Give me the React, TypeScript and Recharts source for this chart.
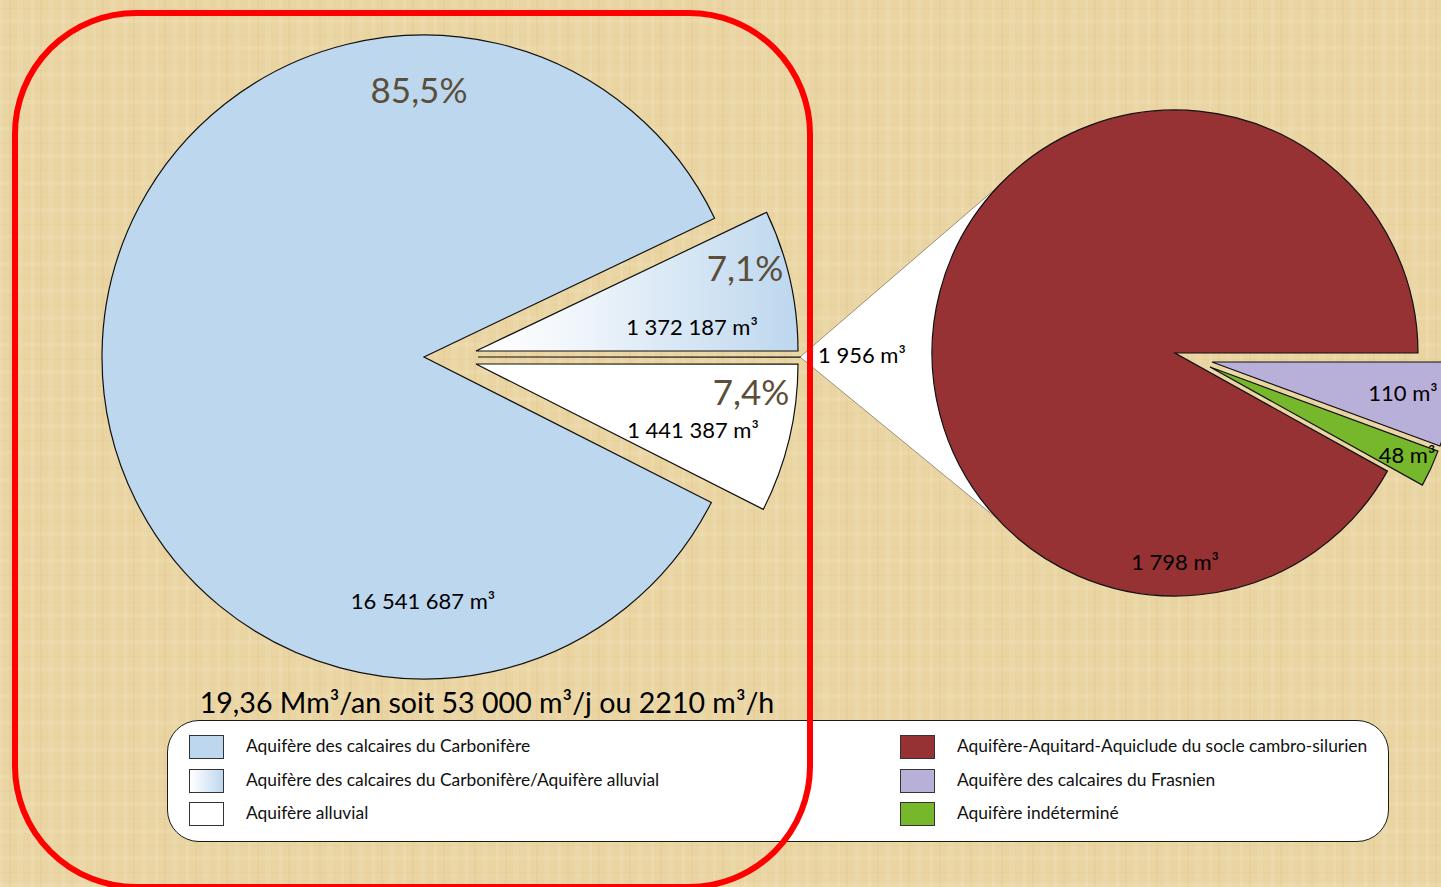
import React from 'react';
import { PieChart, Pie, Cell } from 'recharts';

// ---------- data ----------
const mainCategories = [
  'Aquifère des calcaires du Carbonifère',
  'Aquifère des calcaires du Carbonifère/Aquifère alluvial',
  'Aquifère alluvial',
  'Autres',
];
const mainVolumes = [16541687, 1372187, 1441387, 1956];
const mainPercentLabels = ['85,5%', '7,1%', '7,4%', ''];
const mainVolumeLabels = ['16 541 687 m³', '1 372 187 m³', '1 441 387 m³', '1 956 m³'];

const subCategories = [
  'Aquifère-Aquitard-Aquiclude du socle cambro-silurien',
  'Aquifère des calcaires du Frasnien',
  'Aquifère indéterminé',
];
const subVolumes = [1798, 110, 48];
const subVolumeLabels = ['1 798 m³', '110 m³', '48 m³'];

const titleText = '19,36 Mm³/an soit 53 000 m³/j ou 2210 m³/h';

// ---------- style ----------
const FONT = 'Lato, "Open Sans", "Noto Sans", sans-serif';
const mainFills = ['#BDD7EE', 'url(#gradCA)', '#FFFFFF', '#FFFFFF'];
const mainSwatches = ['#BDD7EE', 'linear-gradient(90deg,#FFFFFF 0%,#EEF4FB 30%,#BDD7EE 100%)', '#FFFFFF'];
const subFills = ['#963234', '#B9B0D9', '#77B72B'];
const PCT_COLOR = '#5A4E3A';

// drawing order (counter-clockwise from 3 o'clock)
const mainOrder = [1, 0, 2, 3];
const subOrder = [0, 2, 1];

const mainData = mainOrder.map((i) => ({ idx: i, name: mainCategories[i], value: mainVolumes[i] }));
const subData = subOrder.map((i) => ({ idx: i, name: subCategories[i], value: subVolumes[i] }));

// geometry of each (exploded) slice
const R1 = 322;
const R2 = 243;
const mainGeom: Record<number, { cx: number; cy: number }> = {
  0: { cx: 424, cy: 357 },
  1: { cx: 476, cy: 351 },
  2: { cx: 476, cy: 364 },
  3: { cx: 478, cy: 357 },
};
const subGeom: Record<number, { cx: number; cy: number }> = {
  0: { cx: 1175, cy: 353 },
  1: { cx: 1212, cy: 362 },
  2: { cx: 1210, cy: 367 },
};
// label offsets relative to slice apex
const mainLabelPos: Record<number, { pct?: [number, number]; vol: [number, number]; anchor?: string }> = {
  0: { pct: [-5, -268], vol: [-1, 243] },
  1: { pct: [269, -84], vol: [216, -25] },
  2: { pct: [275, 27], vol: [217, 65] },
  3: { vol: [340, -3], anchor: 'start' },
};
const subLabelPos: Record<number, [number, number]> = {
  0: [0, 208],
  1: [191, 30],
  2: [197, 87],
};

const W = 1441;
const H = 887;

function makeMainLabel(visible: number) {
  return (props: any) => {
    const d = mainData[props.index];
    if (!d || d.idx !== visible) return null;
    const g = mainGeom[visible];
    const p = mainLabelPos[visible];
    return (
      <g key={`ml-${visible}`}>
        {p.pct && mainPercentLabels[visible] ? (
          <text x={g.cx + p.pct[0]} y={g.cy + p.pct[1]} textAnchor="middle" dominantBaseline="central"
            fontFamily={FONT} fontSize={35} fill={PCT_COLOR}>{mainPercentLabels[visible]}</text>
        ) : null}
        <text x={g.cx + p.vol[0]} y={g.cy + p.vol[1]} textAnchor={p.anchor || 'middle'} dominantBaseline="central"
          fontFamily={FONT} fontSize={22} fill="#000">{mainVolumeLabels[visible]}</text>
      </g>
    );
  };
}

function makeSubLabel(visible: number) {
  return (props: any) => {
    const d = subData[props.index];
    if (!d || d.idx !== visible) return null;
    const g = subGeom[visible];
    const p = subLabelPos[visible];
    return (
      <text key={`sl-${visible}`} x={g.cx + p[0]} y={g.cy + p[1]} textAnchor="middle" dominantBaseline="central"
        fontFamily={FONT} fontSize={22} fill="#000">{subVolumeLabels[visible]}</text>
    );
  };
}

function mainPie(visible: number) {
  const g = mainGeom[visible];
  return (
    <Pie key={`mp-${visible}`} data={mainData} dataKey="value" nameKey="name" cx={g.cx} cy={g.cy}
      outerRadius={R1} innerRadius={0} startAngle={0} endAngle={360} isAnimationActive={false}
      label={makeMainLabel(visible)} labelLine={false}>
      {mainData.map((d) => (
        <Cell key={d.idx} fill={d.idx === visible ? mainFills[d.idx] : 'none'}
          stroke={d.idx === visible ? '#111' : 'none'} strokeWidth={1.2} />
      ))}
    </Pie>
  );
}

function subPie(visible: number) {
  const g = subGeom[visible];
  return (
    <Pie key={`sp-${visible}`} data={subData} dataKey="value" nameKey="name" cx={g.cx} cy={g.cy}
      outerRadius={R2} innerRadius={0} startAngle={0} endAngle={360} isAnimationActive={false}
      label={makeSubLabel(visible)} labelLine={false}>
      {subData.map((d) => (
        <Cell key={d.idx} fill={d.idx === visible ? subFills[d.idx] : 'none'}
          stroke={d.idx === visible ? '#111' : 'none'} strokeWidth={1.2} />
      ))}
    </Pie>
  );
}

// connector between "Autres" slice tip and the secondary pie
const CONNECT_ANGLE = 137;
function Connector() {
  const tipX = mainGeom[3].cx + R1;
  const tipY = mainGeom[3].cy;
  const c = subGeom[0];
  const a = (CONNECT_ANGLE * Math.PI) / 180;
  const top = [c.cx + R2 * Math.cos(a), c.cy - R2 * Math.sin(a)];
  const bot = [c.cx + R2 * Math.cos(a), c.cy + R2 * Math.sin(a)];
  return (
    <svg width={W} height={H} style={{ position: 'absolute', left: 0, top: 0 }}>
      <polygon points={`${tipX},${tipY} ${top[0]},${top[1]} ${c.cx},${c.cy} ${bot[0]},${bot[1]}`} fill="#FFFFFF" stroke="none" />
      <line x1={tipX} y1={tipY} x2={top[0]} y2={top[1]} stroke="#9A8F78" strokeWidth={1} />
      <line x1={tipX} y1={tipY} x2={bot[0]} y2={bot[1]} stroke="#9A8F78" strokeWidth={1} />
    </svg>
  );
}

const legendRows = [0, 1, 2];

export default function App() {
  return (
    <div
      style={{
        position: 'absolute', left: 0, top: 0, width: W, height: H, overflow: 'hidden',
        backgroundColor: '#EAD5A2',
        backgroundImage:
          'repeating-linear-gradient(90deg, rgba(255,255,255,0.10) 0px, rgba(255,255,255,0.10) 3px, transparent 3px, transparent 9px, rgba(140,100,40,0.045) 9px, rgba(140,100,40,0.045) 11px, transparent 11px, transparent 17px, rgba(255,255,255,0.07) 17px, rgba(255,255,255,0.07) 23px, transparent 23px, transparent 31px),' +
          'repeating-linear-gradient(0deg, rgba(255,255,255,0.08) 0px, rgba(255,255,255,0.08) 4px, transparent 4px, transparent 14px, rgba(140,100,40,0.04) 14px, rgba(140,100,40,0.04) 15px, transparent 15px, transparent 27px)',
        fontFamily: FONT,
      }}
    >
      <Connector />
      <div style={{ position: 'absolute', left: 0, top: 0 }}>
        <PieChart width={W} height={H} margin={{ top: 0, right: 0, bottom: 0, left: 0 }}>
          <defs>
            <linearGradient id="gradCA" x1="0" y1="0" x2="1" y2="0">
              <stop offset="0%" stopColor="#FFFFFF" />
              <stop offset="25%" stopColor="#F4F8FC" />
              <stop offset="100%" stopColor="#BDD7EE" />
            </linearGradient>
          </defs>
          {mainPie(0)}
          {mainPie(1)}
          {mainPie(2)}
          {mainPie(3)}
          {subPie(0)}
          {subPie(1)}
          {subPie(2)}
        </PieChart>
      </div>

      <div style={{ position: 'absolute', left: 487, top: 684, transform: 'translateX(-50%)', whiteSpace: 'nowrap',
        fontSize: 28.6, lineHeight: '36px', color: '#000' }}>{titleText}</div>

      <div style={{ position: 'absolute', left: 167, top: 720, width: 1222, height: 122, boxSizing: 'border-box',
        border: '1.5px solid #1a1a1a', borderRadius: 32, background: '#FFFFFF' }} />
      {legendRows.map((r) => (
        <React.Fragment key={`lg-${r}`}>
          <div style={{ position: 'absolute', left: 189, top: 735 + r * 33.5, width: 35, height: 24, boxSizing: 'border-box',
            border: '1.5px solid #333', background: mainSwatches[r] }} />
          <div style={{ position: 'absolute', left: 246, top: 734 + r * 33.5, height: 24, lineHeight: '24px',
            fontSize: 17.4, color: '#111', whiteSpace: 'nowrap' }}>{mainCategories[r]}</div>
          <div style={{ position: 'absolute', left: 900, top: 735 + r * 33.5, width: 35, height: 24, boxSizing: 'border-box',
            border: '1.5px solid #333', background: subFills[r] }} />
          <div style={{ position: 'absolute', left: 957, top: 734 + r * 33.5, height: 24, lineHeight: '24px',
            fontSize: 17.4, color: '#111', whiteSpace: 'nowrap' }}>{subCategories[r]}</div>
        </React.Fragment>
      ))}

      <div style={{ position: 'absolute', left: 12, top: 10, width: 801, height: 880, boxSizing: 'border-box',
        border: '6px solid #FF0000', borderRadius: 124, pointerEvents: 'none' }} />
    </div>
  );
}
